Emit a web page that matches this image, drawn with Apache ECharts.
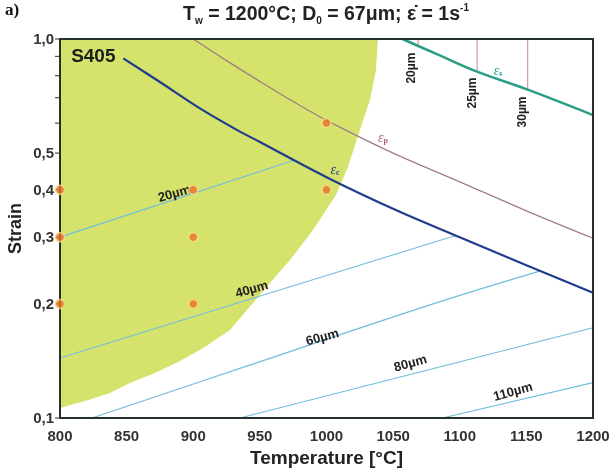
<!DOCTYPE html>
<html><head><meta charset="utf-8">
<script src="https://cdn.jsdelivr.net/npm/echarts@6/dist/echarts.min.js"></script>
<style>html,body{margin:0;padding:0;background:#fff}#c{width:613px;height:470px}</style>
</head><body><div id="c"></div>
<script>
// ---- data ----
const xMin = 800, xMax = 1200, xStep = 50;
const yTickValues = [0.1,0.2,0.3,0.4,0.5,0.6,0.7,0.8,0.9,1.0];
const yLabelValues = [0.1,0.2,0.3,0.4,0.5,1.0];
const regionBoundary = [[800,0.1063],[818.8,0.1109],[837.5,0.1164],[852.5,0.1237],[871.3,0.1315],[890.1,0.1414],[908.8,0.1539],[927.6,0.1707],[940.3,0.1928],[957.6,0.2271],[972.6,0.2611],[989.9,0.3134],[1007.1,0.3877],[1016.1,0.4595],[1025.1,0.5754],[1032.6,0.6902],[1037.1,0.8285],[1038.6,1.0]];
const epsC = [[847.5,0.889],[875,0.77],[905,0.656],[933,0.575],[950,0.535],[1000,0.432],[1055,0.35],[1100,0.30],[1150,0.253],[1200,0.214]];
const epsP = [[900,1.0],[925,0.877],[950,0.773],[975,0.684],[1000,0.61],[1050,0.50],[1100,0.42],[1150,0.352],[1200,0.298]];
const epsS = [[1057,1.0],[1085,0.905],[1113,0.82],[1151,0.735],[1200,0.63]];
const grain20 = [[800,0.30],[975,0.478]];
const grain40 = [[800,0.144],[1097,0.303]];
const grain60 = [[824,0.10],[940,0.137],[1080,0.20],[1160,0.244]];
const grain80 = [[935,0.10],[1200,0.173]];
const grain110 = [[1087,0.10],[1200,0.124]];
const grainLabels = ['20µm','40µm','60µm','80µm','110µm'];
const grainLabelT = [886,944,997,1063,1140];
const grainLabelStrain = [0.390,0.218,0.163,0.139,0.117];
const esGrainLabels = ['20µm','25µm','30µm'];
const esGrainT = [1068.7,1113,1151];
const esGrainBottom = [0.958,0.82,0.735];
const esGrainLabelT = [1064.2,1110,1147.5];
const esGrainLabelStrain = [0.838,0.72,0.642];
const epsLabelNames = ['c','p','s'];
const epsLabelT = [1006.4,1042.4,1128.7];
const epsLabelStrain = [0.451,0.548,0.823];
const steelLabel = 'S405';
const steelLabelPos = [825,0.896];
const samplesT = [800,800,800,900,900,900,1000,1000];
const samplesStrain = [0.4,0.3,0.2,0.4,0.3,0.2,0.6,0.4];

// ---- chart ----
const FONT = '"Liberation Sans", Arial, sans-serif';
const chart = echarts.init(document.getElementById('c'));
const fmt = v => v.toFixed(1).replace('.', ',');
const epsColors = {c:'#1f3d8c', p:'#b0606e', s:'#2a9d86'};

const lineSeries = (data, color, width, z) => ({
  type:'line', data, smooth:0.35, symbol:'none', silent:true, z:z||2,
  lineStyle:{color, width}
});

const option = {
  animation:false,
  grid:{left:60, top:39, width:533, height:379, show:true, borderColor:'#26302d', borderWidth:2, z:4,
        containLabel:false, outerBoundsMode:'none'},
  graphic:[
    {type:'text', x:5, y:2, style:{text:'a)', font:'bold 17px "Liberation Serif", "DejaVu Serif", serif', fill:'#111'}},
    {type:'text', x:326, y:15, style:{
      text:'{b|T}{s|w}{b| = 1200°C; D}{s|0}{b| = 67μm; ε̇ = 1s}{p|-1}',
      align:'center', verticalAlign:'middle',
      rich:{
        b:{font:'bold 19.5px '+FONT, fill:'#222', lineHeight:23, verticalAlign:'middle'},
        s:{font:'bold 10px '+FONT, fill:'#222', lineHeight:23, verticalAlign:'bottom'},
        p:{font:'bold 10px '+FONT, fill:'#222', lineHeight:23, verticalAlign:'top'}
      }}}
  ],
  xAxis:{type:'value', min:xMin, max:xMax, interval:xStep,
    name:'Temperature [°C]', nameLocation:'middle', nameGap:31,
    nameTextStyle:{fontFamily:FONT, fontWeight:'bold', fontSize:19, color:'#222'},
    axisLine:{show:false}, axisTick:{show:false},
    axisLabel:{fontFamily:FONT, fontWeight:'bold', fontSize:15, color:'#333', margin:11, formatter:v => String(v)},
    splitLine:{show:true, lineStyle:{color:'rgba(255,255,255,0.35)', width:1}}
  },
  yAxis:{type:'log', logBase:10, min:0.1, max:1,
    name:'Strain', nameLocation:'middle', nameGap:35, nameRotate:90,
    nameTextStyle:{fontFamily:FONT, fontWeight:'bold', fontSize:18, color:'#222'},
    axisLine:{show:false}, axisTick:{show:false}, axisLabel:{show:false}, splitLine:{show:false}
  },
  series:[
    {type:'custom', silent:true, z:1, clip:true, data:[0],
      renderItem:(params, api) => {
        const pts = [api.coord([xMin, 1.0])].concat(regionBoundary.slice().reverse().map(p => api.coord(p)));
        pts.push(api.coord([xMin, regionBoundary[0][1]]));
        return {type:'polygon', shape:{points:pts}, style:{fill:'#d5e26c'}};
      }},
    lineSeries(grain20,'#72bedc',1.2),
    lineSeries(grain40,'#72bedc',1.2),
    lineSeries(grain60,'#72bedc',1.2),
    lineSeries(grain80,'#72bedc',1.2),
    lineSeries(grain110,'#72bedc',1.2),
    lineSeries(epsP,'#a07e84',1.3),
    lineSeries(epsC,'#1f3d8c',2.2,3),
    lineSeries(epsS,'#2a9d86',2.5,3),
    {type:'custom', silent:true, z:2, clip:false,
      data: esGrainT.map((t,i) => [t, esGrainBottom[i], i]),
      renderItem:(params, api) => {
        const i = api.value(2);
        const top = api.coord([api.value(0), 1.0]);
        const bot = api.coord([api.value(0), api.value(1)]);
        const lp = api.coord([esGrainLabelT[i], esGrainLabelStrain[i]]);
        return {type:'group', children:[
          {type:'line', shape:{x1:top[0], y1:top[1], x2:bot[0], y2:bot[1]}, style:{stroke:'#e07888', lineWidth:1}},
          {type:'text', x:lp[0], y:lp[1], rotation:Math.PI/2,
            style:{text:esGrainLabels[i], align:'center', verticalAlign:'middle', font:'bold 12px '+FONT, fill:'#222'}}
        ]};
      }},
    {type:'custom', silent:true, z:6, clip:false,
      data: grainLabels.map((t,i) => [grainLabelT[i], grainLabelStrain[i], i]),
      renderItem:(params, api) => {
        const i = api.value(2);
        const p = api.coord([api.value(0), api.value(1)]);
        return {type:'text', x:p[0], y:p[1], rotation:0.27,
          style:{text:grainLabels[i], align:'center', verticalAlign:'middle', font:'bold 13px '+FONT, fill:'#222'}};
      }},
    {type:'custom', silent:true, z:6, clip:false,
      data: epsLabelNames.map((t,i) => [epsLabelT[i], epsLabelStrain[i], i]),
      renderItem:(params, api) => {
        const i = api.value(2);
        const n = epsLabelNames[i];
        const p = api.coord([api.value(0), api.value(1)]);
        return {type:'text', x:p[0], y:p[1],
          style:{text:'{e|ε}{s|'+n+'}', align:'center', verticalAlign:'middle',
            rich:{e:{font:'italic 14px "Liberation Serif", serif', fill:epsColors[n], verticalAlign:'middle', lineHeight:14},
                  s:{font:'bold 8px "Liberation Serif", serif', fill:epsColors[n], verticalAlign:'bottom', lineHeight:14}}}};
      }},
    {type:'custom', silent:true, z:6, clip:false, data:[steelLabelPos],
      renderItem:(params, api) => {
        const p = api.coord([api.value(0), api.value(1)]);
        return {type:'text', x:p[0], y:p[1],
          style:{text:steelLabel, align:'center', verticalAlign:'middle', font:'bold 19px '+FONT, fill:'#1a1f1c'}};
      }},
    {type:'custom', silent:true, z:6, clip:false,
      data: yTickValues.map(v => [xMin, v]),
      renderItem:(params, api) => {
        const v = api.value(1);
        const p = api.coord([xMin, v]);
        const children = [{type:'line', shape:{x1:p[0]-5, y1:p[1], x2:p[0], y2:p[1]}, style:{stroke:'#26302d', lineWidth:1}}];
        if (yLabelValues.some(l => Math.abs(l - v) < 1e-9)) {
          children.push({type:'text', x:p[0]-6, y:p[1]+1, style:{text:fmt(v), align:'right', verticalAlign:'middle', font:'bold 15px '+FONT, fill:'#333'}});
        }
        return {type:'group', children};
      }},
    {type:'scatter', z:8, clip:false, silent:true, symbolSize:9,
      data: samplesT.map((t,i) => [t, samplesStrain[i]]),
      itemStyle:{color:'#e8702a', borderColor:'#f6e08a', borderWidth:1.5}}
  ]
};
chart.setOption(option);
</script></body></html>
